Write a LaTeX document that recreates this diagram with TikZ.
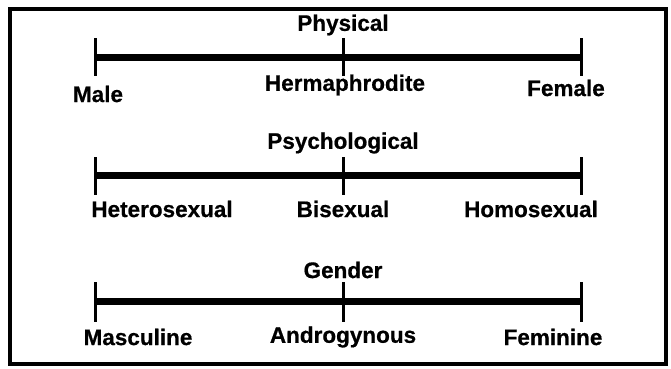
\documentclass[tikz,border=0pt]{standalone}
\usepackage{fontspec}
\setmainfont{Liberation Sans}[BoldFeatures={FakeBold=0.6}]
\begin{document}
\begin{tikzpicture}[x=1pt,y=-1pt,
  bar/.style={line width=7pt},
  tick/.style={line width=3pt},
  lab/.style={font=\bfseries\fontsize{22.5}{25}\selectfont, inner sep=0pt, anchor=center},
  frame/.style={line width=4pt}]
\useasboundingbox (0,0) rectangle (671,368);
\draw[frame] (10,9) rectangle (666,364);
% Physical
\node[lab] (phys) at (343,25) {Physical};
\coordinate (p1) at (95,57); \coordinate (p2) at (343,57); \coordinate (p3) at (581,57);
\draw[bar] (p1) -- (p3);
\draw[tick] (95,38) -- (95,76);
\draw[tick] (343,38) -- (343,76);
\draw[tick] (581,38) -- (581,76);
\node[lab] (male) at (98,94) {Male};
\node[lab] (herm) at (345,85) {Hermaphrodite};
\node[lab] (fem) at (566,88) {Female};
% Psychological
\node[lab] (psy) at (343,143) {Psychological};
\coordinate (q1) at (95,175); \coordinate (q3) at (581,175);
\draw[bar] (q1) -- (q3);
\draw[tick] (95,157) -- (95,195);
\draw[tick] (343,157) -- (343,195);
\draw[tick] (581,157) -- (581,195);
\node[lab] (het) at (162,209) {Heterosexual};
\node[lab] (bi) at (343,209) {Bisexual};
\node[lab] (hom) at (531,209) {Homosexual};
% Gender
\node[lab] (gen) at (343,270) {Gender};
\coordinate (r1) at (95,301); \coordinate (r3) at (581,301);
\draw[bar] (r1) -- (r3);
\draw[tick] (95,282) -- (95,322);
\draw[tick] (343,282) -- (343,322);
\draw[tick] (581,282) -- (581,322);
\node[lab] (masc) at (138,337) {Masculine};
\node[lab] (andr) at (343,337) {Androgynous};
\node[lab] (femi) at (553,337) {Feminine};
\end{tikzpicture}
\end{document}
